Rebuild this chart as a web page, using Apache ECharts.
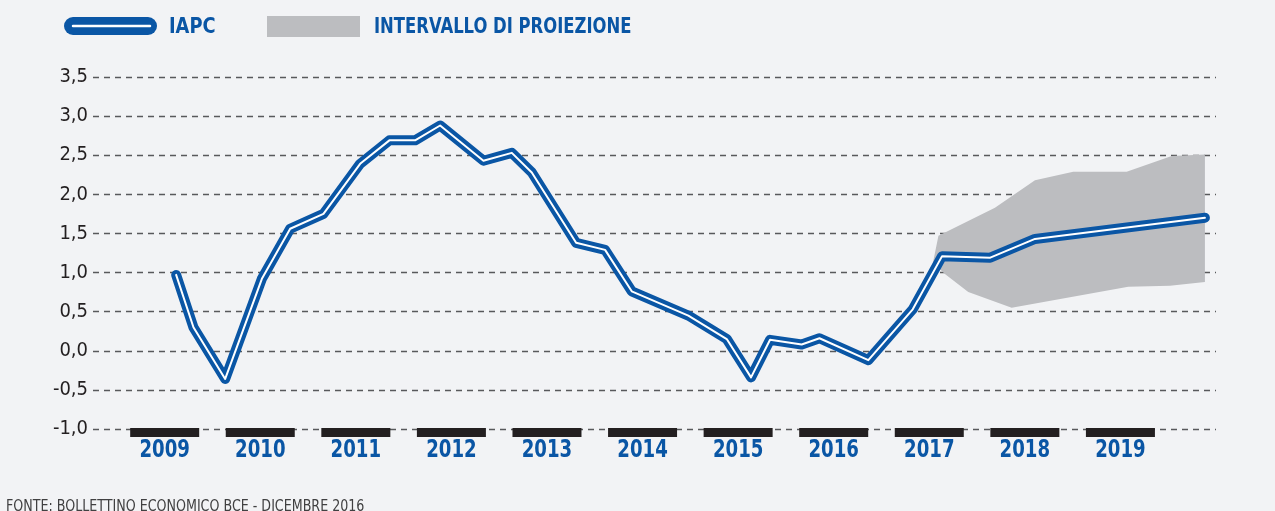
<!DOCTYPE html>
<html>
<head>
<meta charset="utf-8">
<script src="https://cdn.jsdelivr.net/npm/echarts@6/dist/echarts.min.js"></script>
<style>
html,body{margin:0;padding:0;background:#f2f3f5;}
#c{width:1275px;height:511px;}
</style>
</head>
<body>
<div id="c"></div>
<script>
// ---- data ----
const years = [2009, 2010, 2011, 2012, 2013, 2014, 2015, 2016, 2017, 2018, 2019];
const yTicks = [-1.0, -0.5, 0.0, 0.5, 1.0, 1.5, 2.0, 2.5, 3.0, 3.5];
// IAPC (x = position in years, y = %)
const iapcX = [2009.120, 2009.301, 2009.633, 2010.017, 2010.313, 2010.661, 2011.045, 2011.351, 2011.620, 2011.882,
               2012.335, 2012.632, 2012.841, 2013.305, 2013.608, 2013.887, 2014.479, 2014.881, 2015.135, 2015.334,
               2015.665, 2015.851, 2016.362, 2016.827, 2017.134, 2017.638, 2018.106, 2019.884];
const iapcY = [0.97, 0.30, -0.36, 0.92, 1.56, 1.75, 2.39, 2.69, 2.69, 2.88,
               2.43, 2.53, 2.28, 1.38, 1.29, 0.76, 0.45, 0.15, -0.34, 0.14,
               0.08, 0.16, -0.12, 0.53, 1.21, 1.19, 1.43, 1.70];
// projection interval
const upperX = [2017.039, 2017.096, 2017.687, 2018.106, 2018.506, 2019.065, 2019.536, 2019.884];
const upperY = [1.13, 1.47, 1.83, 2.18, 2.29, 2.29, 2.49, 2.51];
const lowerX = [2017.164, 2017.408, 2017.862, 2019.082, 2019.518, 2019.884];
const lowerY = [0.98, 0.75, 0.55, 0.82, 0.83, 0.88];

const BLUE = '#0a56a5';
const GRAY = '#bcbdc0';
const DARK = '#231f20';
const FONT = "'Liberation Sans Narrow','DejaVu Sans Condensed','Roboto',sans-serif";

const iapc = iapcX.map((x, i) => [x, iapcY[i]]);

const chart = echarts.init(document.getElementById('c'), null, {renderer: 'canvas'});
chart.setOption({
  backgroundColor: '#f2f3f5',
  animation: false,
  grid: {left: 93, width: 1123, top: 77, height: 352, containLabel: false},
  xAxis: {
    type: 'value', min: 2008.25, max: 2020,
    axisLine: {show: false}, axisTick: {show: false}, splitLine: {show: false},
    axisLabel: {show: false}
  },
  yAxis: {
    type: 'value', min: yTicks[0], max: yTicks[yTicks.length - 1], interval: 0.5,
    axisLine: {show: false}, axisTick: {show: false},
    splitLine: {show: true, lineStyle: {color: '#58595b', width: 1.3, type: [6, 5]}},
    axisLabel: {
      margin: 5, color: DARK, fontFamily: FONT, fontSize: 20,
      formatter: v => v.toFixed(1).replace('.', ',')
    }
  },
  series: [
    {
      type: 'custom', name: 'band', z: 2,
      data: [[2018.5, 1.5]],
      renderItem: function (params, api) {
        const pts = [];
        for (let i = 0; i < upperX.length; i++) pts.push(api.coord([upperX[i], upperY[i]]));
        for (let i = lowerX.length - 1; i >= 0; i--) pts.push(api.coord([lowerX[i], lowerY[i]]));
        return {type: 'polygon', shape: {points: pts}, style: {fill: GRAY}};
      }
    },
    {
      type: 'custom', name: 'years', z: 3, clip: false,
      data: years.map(y => [y, yTicks[0]]),
      renderItem: function (params, api) {
        const y = api.value(0);
        const p = api.coord([y - 0.361, api.value(1)]);
        const c = api.coord([y, api.value(1)]);
        const w = api.size([0.722, 0])[0];
        return {
          type: 'group',
          children: [
            {type: 'rect', shape: {x: p[0], y: p[1] - 1, width: w, height: 9}, style: {fill: DARK}},
            {type: 'text', x: c[0], y: c[1] + 22, scaleX: 0.84,
             style: {text: String(y), fill: BLUE, font: "bold 24px " + FONT, textAlign: 'center', textVerticalAlign: 'middle'}}
          ]
        };
      }
    },
    {
      type: 'line', name: 'IAPC', z: 4, data: iapc, symbol: 'none',
      lineStyle: {color: BLUE, width: 10, cap: 'round', join: 'round'}
    },
    {
      type: 'line', name: 'IAPC-inner', z: 5, data: iapc, symbol: 'none',
      lineStyle: {color: '#ffffff', width: 2, cap: 'round', join: 'round'}
    }
  ],
  graphic: [
    {type: 'rect', shape: {x: 64, y: 17, width: 93, height: 18, r: 9}, style: {fill: BLUE}},
    {type: 'line', shape: {x1: 73, y1: 26, x2: 150, y2: 26}, style: {stroke: '#ffffff', lineWidth: 2.5, lineCap: 'round'}},
    {type: 'text', x: 169, y: 27, scaleX: 0.9, style: {text: 'IAPC', fill: BLUE, font: "bold 22px " + FONT, textVerticalAlign: 'middle'}},
    {type: 'rect', shape: {x: 267, y: 16, width: 93, height: 21}, style: {fill: GRAY}},
    {type: 'text', x: 374, y: 27, scaleX: 0.83, style: {text: 'INTERVALLO DI PROIEZIONE', fill: BLUE, font: "bold 22px " + FONT, textVerticalAlign: 'middle'}},
    {type: 'text', x: 6, y: 499, scaleX: 0.88, style: {text: 'FONTE: BOLLETTINO ECONOMICO BCE - DICEMBRE 2016', fill: '#404041', font: "16px " + FONT, textVerticalAlign: 'top'}}
  ]
});
</script>
</body>
</html>
